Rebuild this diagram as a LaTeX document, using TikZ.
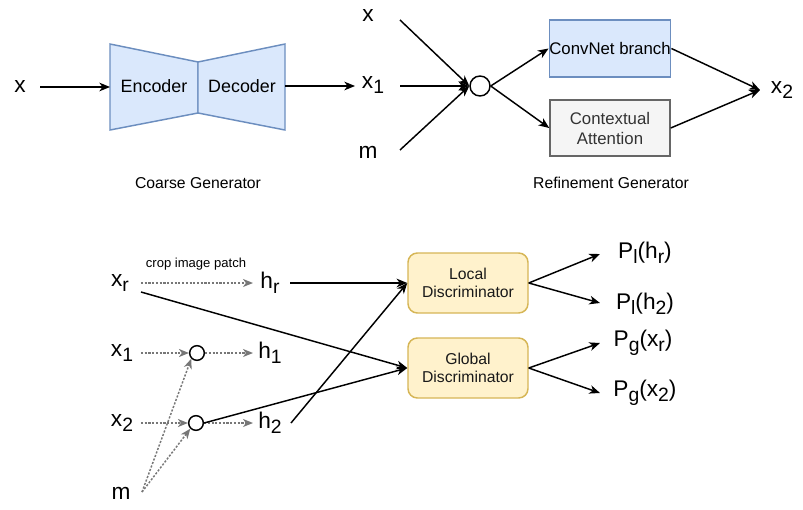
\documentclass[tikz,border=0pt]{standalone}
\usepackage{fontspec}
\setmainfont{Liberation Sans}
\usetikzlibrary{arrows.meta}
\definecolor{bluefill}{HTML}{DAE8FC}
\definecolor{bluedraw}{HTML}{6C8EBF}
\definecolor{grayfill}{HTML}{F5F5F5}
\definecolor{graydraw}{HTML}{666666}
\definecolor{graytext}{HTML}{333333}
\definecolor{yelfill}{HTML}{FFF2CC}
\definecolor{yeldraw}{HTML}{D6B656}
\definecolor{dotgray}{HTML}{777777}
\newcommand{\sbs}[1]{\raisebox{-0.22em}{\fontsize{14.5}{14.5}\selectfont #1}}
\begin{document}
\begin{tikzpicture}[x=0.75pt,y=-0.75pt,
  big/.style={inner sep=0pt,font=\fontsize{17}{19}\selectfont},
  mid/.style={inner sep=0pt,font=\fontsize{13.4}{16}\selectfont},
  captext/.style={inner sep=0pt,font=\fontsize{11.8}{14}\selectfont},
  small/.style={inner sep=0pt,font=\fontsize{9.8}{11}\selectfont},
  arr/.style={-{Stealth[length=8pt,width=6.5pt,inset=2.4pt]},line width=1.1pt,black},
  darr/.style={-{Stealth[length=7.5pt,width=6pt,inset=2.2pt]},line width=1.1pt,dotgray,dash pattern=on 1.6pt off 1.2pt},
  bluebox/.style={draw=bluedraw,fill=bluefill,line width=1.1pt},
  graybox/.style={draw=graydraw,fill=grayfill,line width=1.1pt,text=graytext},
  disc/.style={draw=yeldraw,fill=yelfill,line width=1.1pt,rounded corners=7pt,minimum width=90pt,minimum height=45pt,align=center,inner sep=0pt,font=\fontsize{11.8}{14}\selectfont,text=black!90},
  circ/.style={circle,draw=black,line width=1.1pt,fill=white,inner sep=0pt},
]
\useasboundingbox (0,0) rectangle (803,510);

% ---------- Coarse generator ----------
\node[big] (xa) at (20,87) {x};
\coordinate (xa-o) at (40,87);
\draw[bluebox] (110,44) -- (198,62) -- (198,113) -- (110,130) -- cycle;
\draw[bluebox] (198,62) -- (285,44) -- (285,130) -- (198,113) -- cycle;
\node[mid] (enc) at (154,86) {Encoder};
\node[mid] (dec) at (242,86) {Decoder};
\coordinate (enc-i) at (110,87);
\coordinate (dec-o) at (285,86);
\draw[arr] (xa-o) -- (enc-i);
\coordinate (x1a-i) at (355,86);
\draw[arr] (dec-o) -- (x1a-i);
\node[captext] (cg) at (198,183) {Coarse Generator};

% ---------- Refinement generator ----------
\node[big] (xb) at (368,16) {x};
\node[big] (x1b) at (373,85) {x\sbs{1}};
\node[big] (mb) at (368,152) {m};
\coordinate (xb-o) at (400,20);
\coordinate (x1b-o) at (400,86);
\coordinate (mb-o) at (400,150);
\node[circ,minimum size=15pt] (c0) at (480,86) {};
\draw[arr] (xb-o) -- (c0.west);
\draw[arr] (x1b-o) -- (c0.west);
\draw[arr] (mb-o) -- (c0.west);
\node[bluebox,minimum width=90pt,minimum height=42.75pt,inner sep=0pt,font=\fontsize{12.6}{15}\selectfont] (conv) at (610,48.5) {ConvNet branch};
\node[graybox,minimum width=90pt,minimum height=42pt,inner sep=0pt,align=center,font=\fontsize{12.6}{15}\selectfont] (ctx) at (610,128) {Contextual\\Attention};
\draw[arr] (c0.east) -- (conv.west);
\draw[arr] (c0.east) -- (ctx.west);
\node[big] (x2b) at (782,90) {x\sbs{2}};
\coordinate (x2b-i) at (760,90);
\draw[arr] (conv.east) -- (x2b-i);
\draw[arr] (ctx.east) -- (x2b-i);
\node[captext] (rg) at (611,183) {Refinement Generator};

% ---------- Discriminators ----------
\node[small] (crop) at (196,264) {crop image patch};
\node[big] (xr) at (120,283) {x\sbs{r}};
\node[big] (x1c) at (122,353) {x\sbs{1}};
\node[big] (x2c) at (122,423) {x\sbs{2}};
\node[big] (mc) at (121,493) {m};
\node[big] (hr) at (270,283) {h\sbs{r}};
\node[big] (h1) at (270,353) {h\sbs{1}};
\node[big] (h2) at (270,423) {h\sbs{2}};

\coordinate (xr-o) at (141,283);
\coordinate (xr-o2) at (141,292);
\coordinate (hr-i) at (253,283);
\coordinate (hr-o) at (290,283);
\coordinate (x1c-o) at (141,353);
\coordinate (x2c-o) at (141,423);
\coordinate (h1-i) at (253,353);
\coordinate (h2-i) at (253,423);
\coordinate (h2-o) at (291,423);
\coordinate (mc-o) at (142,492);

\node[circ,minimum size=11pt] (c1) at (197,353) {};
\node[circ,minimum size=11pt] (c2) at (196,423) {};

\node[disc] (loc) at (468,283) {Local\\Discriminator};
\node[disc] (glo) at (468,368) {Global\\Discriminator};

\draw[darr] (xr-o) -- (hr-i);
\draw[darr] (x1c-o) -- (c1.west);
\draw[darr] (x2c-o) -- (c2.west);
\draw[darr] (c1.east) -- (h1-i);
\draw[darr] (c2.east) -- (h2-i);
\draw[darr] (mc-o) -- (c1.south west);
\draw[darr] (mc-o) -- (c2.south west);

\draw[arr] (hr-o) -- (loc.west);
\draw[arr] (xr-o2) -- (glo.west);
\draw[arr] (c2.east) -- (glo.west);
\draw[arr] (h2-o) -- (loc.west);

\node[big] (plr) at (645,253) {P\sbs{l}(h\sbs{r})};
\node[big] (pl2) at (645,304) {P\sbs{l}(h\sbs{2})};
\node[big] (pgr) at (643,343) {P\sbs{g}(x\sbs{r})};
\node[big] (pg2) at (645,393) {P\sbs{g}(x\sbs{2})};
\coordinate (plr-i) at (600,254);
\coordinate (pl2-i) at (600,303);
\coordinate (pgr-i) at (600,343);
\coordinate (pg2-i) at (600,393);
\draw[arr] (loc.east) -- (plr-i);
\draw[arr] (loc.east) -- (pl2-i);
\draw[arr] (glo.east) -- (pgr-i);
\draw[arr] (glo.east) -- (pg2-i);
\end{tikzpicture}
\end{document}
